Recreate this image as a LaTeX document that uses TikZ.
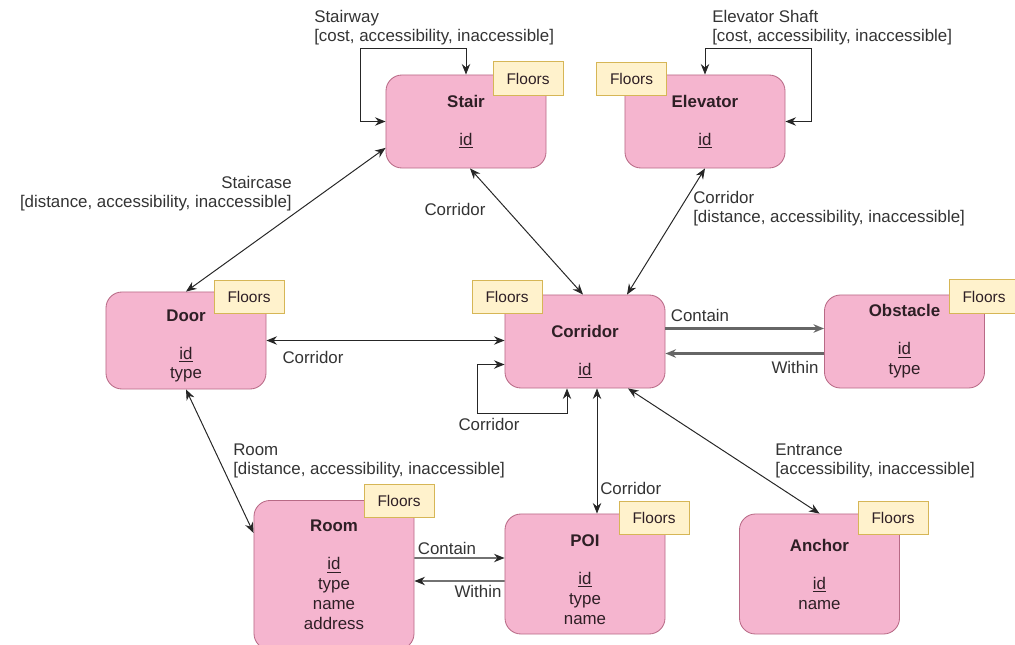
\documentclass[tikz,border=0pt]{standalone}
\usepackage{fontspec}
\setmainfont{Liberation Sans}
\usetikzlibrary{arrows.meta}

\definecolor{boxpink}{HTML}{F5B5CF}
\definecolor{boxedge}{HTML}{B86A86}
\definecolor{tagfill}{HTML}{FFF2CC}
\definecolor{tagedge}{HTML}{D6B656}
\definecolor{inktext}{HTML}{2E1F25}

\begin{document}
\begin{tikzpicture}[x=0.025cm, y=-0.025cm,
    entity/.style={draw=boxedge, fill=boxpink, rounded corners=0.4cm, minimum width=4cm,
      align=center, text=inktext, font=\fontsize{12}{14.2}\selectfont, line width=0.6pt},
    floors/.style={draw=tagedge, fill=tagfill, minimum width=1.75cm, minimum height=0.84cm,
      font=\fontsize{11}{13}\selectfont, text=inktext, inner sep=0pt, line width=0.6pt},
    link/.style={<->, draw=black!85, line width=0.7pt},
    heavy/.style={->, draw=black!60, line width=1.5pt},
    thin/.style={->, draw=black!85, line width=0.8pt},
    lbl/.style={font=\fontsize{12}{13.5}\selectfont, text=black!80, inner sep=0pt},
    >={Stealth[length=7.5pt,width=6pt]}]
  \useasboundingbox (0,0) rectangle (1015,645);

  % entities
  \node[entity, minimum height=2.325cm] (stair) at (466,121.5) {\textbf{Stair}\\[12.8pt]\underline{id}};
  \node[entity, minimum height=2.325cm] (elevator) at (705,121.5) {\textbf{Elevator}\\[12.8pt]\underline{id}};
  \node[entity, minimum height=2.425cm] (door) at (186,340.5) {\rule{0pt}{16pt}\textbf{Door}\\[12.8pt]\underline{id}\\type};
  \node[entity, minimum height=2.325cm] (corridor) at (585,341.5) {\rule{0pt}{23pt}\textbf{Corridor}\\[12.8pt]\underline{id}};
  \node[entity, minimum height=2.325cm] (obstacle) at (904.5,341.5) {\textbf{Obstacle}\\[12.8pt]\underline{id}\\type};
  \node[entity, minimum height=3.725cm] (room) at (334,575) {\textbf{Room}\\[12.8pt]\underline{id}\\type\\name\\address};
  \node[entity, minimum height=3cm] (poi) at (585,574) {\rule{0pt}{16pt}\textbf{POI}\\[12.8pt]\underline{id}\\type\\name};
  \node[entity, minimum height=3cm] (anchor) at (819.5,574) {\textbf{Anchor}\\[12.8pt]\underline{id}\\name};

  % floor tags
  \node[floors] (stairfl) at (528,78.5) {Floors};
  \node[floors] (elevatorfl) at (631.5,79) {Floors};
  \node[floors] (doorfl) at (249,297) {Floors};
  \node[floors] (corridorfl) at (507,297) {Floors};
  \node[floors] (obstaclefl) at (984,296.5) {Floors};
  \node[floors] (roomfl) at (399,501) {Floors};
  \node[floors] (poifl) at (654,518) {Floors};
  \node[floors] (anchorfl) at (893,518) {Floors};

  % loops
  \draw[link] (stair.north) -- ++(0,-26) -- ++(-106,0) |- (stair.west);
  \draw[link] (elevator.north) -- ++(0,-26) -- ++(106,0) |- (elevator.east);
  \draw[link] ([yshift=-0.575cm]corridor.west) -- ++(-27,0) -- ++(0,49) -| ([xshift=-0.45cm]corridor.south);

  % links
  \draw[link] ([yshift=-0.66cm]stair.west) -- (door.north);
  \draw[link] ([xshift=0.1cm]stair.south) -- ([xshift=-0.05cm]corridor.north);
  \draw[link] (elevator.south) -- ([xshift=1.05cm]corridor.north);
  \draw[link] (door.east) -- (door.east -| corridor.west);
  \draw[link] (door.south) -- ([yshift=1.05cm]room.west);
  \draw[link] ([xshift=0.3cm]corridor.south) -- ([xshift=0.3cm]poi.north);
  \draw[link] ([xshift=1.075cm]corridor.south) -- (anchor.north);
  \draw[heavy] ([yshift=0.325cm]corridor.east) -- ([yshift=0.325cm]obstacle.west);
  \draw[heavy] ([yshift=-0.3cm]obstacle.west) -- ([yshift=-0.3cm]corridor.east);
  \draw[thin] ([yshift=0.425cm]room.east) -- ([yshift=0.4cm]poi.west);
  \draw[thin] ([yshift=-0.175cm]poi.west) -- ([yshift=-0.15cm]room.east);

  % labels
  \node[lbl, anchor=west, align=left] (stairwaylbl) at (314,27.5) {Stairway\\{[}cost, accessibility, inaccessible{]}};
  \node[lbl, anchor=west, align=left] (shaftlbl) at (712,27.5) {Elevator Shaft\\{[}cost, accessibility, inaccessible{]}};
  \node[lbl, anchor=east, align=right] (staircaselbl) at (292,194) {Staircase\\{[}distance, accessibility, inaccessible{]}};
  \node[lbl] (stcorlbl) at (455,209) {Corridor};
  \node[lbl, anchor=west, align=left] (elcorlbl) at (693,208.5) {Corridor\\{[}distance, accessibility, inaccessible{]}};
  \node[lbl] (dcorlbl) at (313,357) {Corridor};
  \node[lbl] (ocontlbl) at (700,315) {Contain};
  \node[lbl] (owithlbl) at (795,367) {Within};
  \node[lbl] (looplbl) at (489,424) {Corridor};
  \node[lbl, anchor=west, align=left] (roomlbl) at (233,461) {Room\\{[}distance, accessibility, inaccessible{]}};
  \node[lbl, anchor=west] (pcorlbl) at (600,488) {Corridor};
  \node[lbl, anchor=west, align=left] (entrlbl) at (775,461) {Entrance\\{[}accessibility, inaccessible{]}};
  \node[lbl] (rcontlbl) at (447,548) {Contain};
  \node[lbl] (rwithlbl) at (478,591) {Within};
\end{tikzpicture}
\end{document}
